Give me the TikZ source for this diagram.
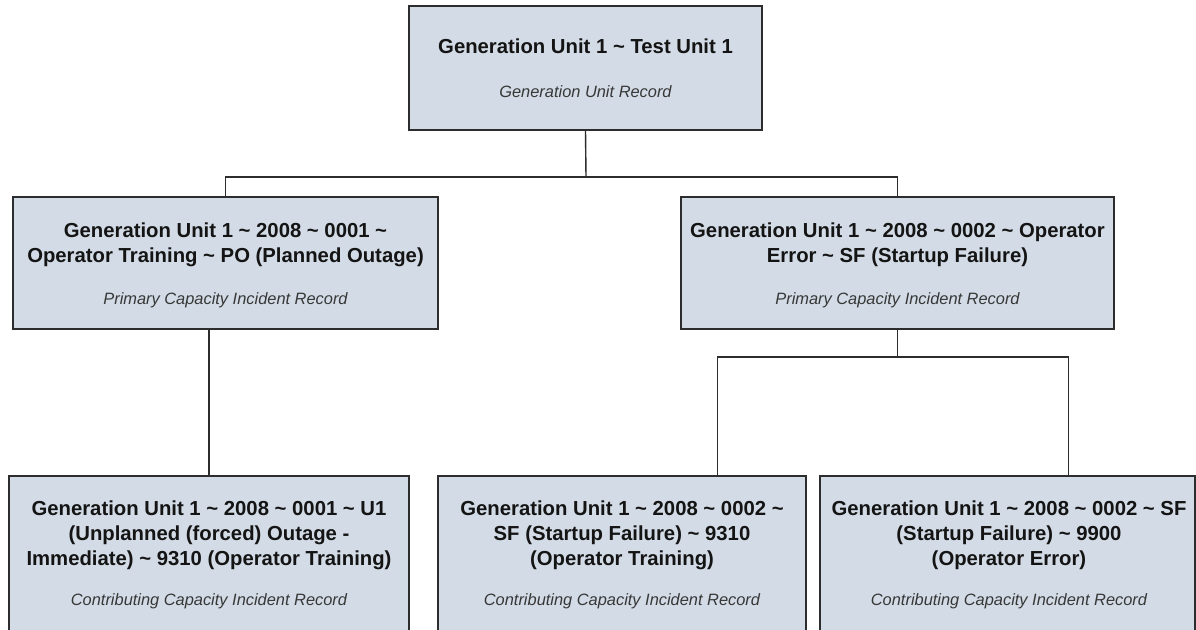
\documentclass[tikz,border=0pt]{standalone}
\usepackage{fontspec}
\setmainfont{Liberation Sans}
\usetikzlibrary{calc}
\definecolor{boxfill}{RGB}{211,220,230}
\definecolor{edgecol}{RGB}{45,45,45}
\definecolor{subcol}{RGB}{55,55,55}
\definecolor{titlecol}{RGB}{20,20,20}
\begin{document}
\begin{tikzpicture}[x=1pt,y=-1pt,
  recbox/.style={rectangle, draw=edgecol, line width=1.5pt, fill=boxfill, inner sep=0pt},
  ttl/.style={font=\fontsize{20.3}{25}\selectfont\bfseries, text=titlecol, anchor=base, inner sep=0pt},
  sbt/.style={font=\fontsize{16.4}{20}\selectfont\itshape, text=subcol, anchor=base, inner sep=0pt},
  conn/.style={draw=edgecol, line width=1.4pt}]
\useasboundingbox (0,0) rectangle (1196,629);
\clip (0,0) rectangle (1196,629);
\fill[white] (0,0) rectangle (1196,629);

% boxes
\node[recbox, minimum width=353pt, minimum height=124pt] (top) at (585.5,68) {};
\node[recbox, minimum width=425pt, minimum height=132pt] (lm) at (225.5,263) {};
\node[recbox, minimum width=433pt, minimum height=132pt] (rm) at (897.5,263) {};
\node[recbox, minimum width=400pt, minimum height=155pt] (bl) at (209,553.5) {};
\node[recbox, minimum width=368pt, minimum height=155pt] (bm) at (622,553.5) {};
\node[recbox, minimum width=375pt, minimum height=155pt] (br) at (1007.5,553.5) {};

% connectors
\coordinate (j1) at (586,177);
\coordinate (j2) at (897.5,357);
\draw[conn] (top.south) -- (j1);
\draw[conn] (lm.north) -- (lm.north |- j1) -- (rm.north |- j1) -- (rm.north);
\draw[conn] (bl.north) -- (bl.north |- lm.south);
\draw[conn] (rm.south) -- (j2);
\coordinate (bmin) at ($(bm.north west)+(280,0)$);
\coordinate (brin) at ($(br.north west)+(249.5,0)$);
\draw[conn] (bmin) -- (bmin |- j2) -- (brin |- j2) -- (brin);

% texts
\node[ttl] (t1) at (585.5,53) {Generation Unit 1 \textasciitilde{} Test Unit 1};
\node[sbt] (s1) at (585.5,97) {Generation Unit Record};

\node[ttl] (t2a) at (225.5,237.5) {Generation Unit 1 \textasciitilde{} 2008 \textasciitilde{} 0001 \textasciitilde};
\node[ttl] (t2b) at (225.5,262.5) {Operator Training \textasciitilde{} PO (Planned Outage)};
\node[sbt] (s2) at (225.5,304) {Primary Capacity Incident Record};

\node[ttl] (t3a) at (897.5,237.5) {Generation Unit 1 \textasciitilde{} 2008 \textasciitilde{} 0002 \textasciitilde{} Operator};
\node[ttl] (t3b) at (897.5,262.5) {Error \textasciitilde{} SF (Startup Failure)};
\node[sbt] (s3) at (897.5,304) {Primary Capacity Incident Record};

\node[ttl] (t4a) at (209,515.5) {Generation Unit 1 \textasciitilde{} 2008 \textasciitilde{} 0001 \textasciitilde{} U1};
\node[ttl] (t4b) at (209,540.5) {(Unplanned (forced) Outage -};
\node[ttl] (t4c) at (209,565.5) {Immediate) \textasciitilde{} 9310 (Operator Training)};
\node[sbt] (s4) at (209,605) {Contributing Capacity Incident Record};

\node[ttl] (t5a) at (622,515.5) {Generation Unit 1 \textasciitilde{} 2008 \textasciitilde{} 0002 \textasciitilde};
\node[ttl] (t5b) at (622,540.5) {SF (Startup Failure) \textasciitilde{} 9310};
\node[ttl] (t5c) at (622,565.5) {(Operator Training)};
\node[sbt] (s5) at (622,605) {Contributing Capacity Incident Record};

\node[ttl] (t6a) at (1009,515.5) {Generation Unit 1 \textasciitilde{} 2008 \textasciitilde{} 0002 \textasciitilde{} SF};
\node[ttl] (t6b) at (1009,540.5) {(Startup Failure) \textasciitilde{} 9900};
\node[ttl] (t6c) at (1009,565.5) {(Operator Error)};
\node[sbt] (s6) at (1009,605) {Contributing Capacity Incident Record};
\end{tikzpicture}
\end{document}
